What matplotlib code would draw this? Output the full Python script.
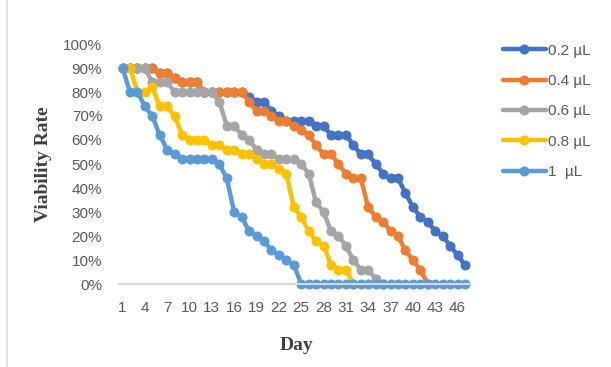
import numpy as np
import matplotlib
matplotlib.use("Agg")
import matplotlib.pyplot as plt
from matplotlib.lines import Line2D
from matplotlib.ticker import PercentFormatter

days = list(range(1, 48))
xtick_labels = list(range(1, 48, 3))

nan = np.nan
v_02 = [90, 90, 90, 90, 90, 88, 88, 86, 84, 84, 84, 80, 80, 80, 80, 80, 80, 78, 76, 76,
        72, 70, 68, 68, 68, 68, 66, 66, 62, 62, 62, 58, 54, 54, 50, 46, 44, 44, 38, 32,
        28, 26, 22, 20, 16, 12, 8]
v_04 = [90, 90, 90, 90, 90, 88, 88, 86, 84, 84, 84, 80, 80, 80, 80, 80, 80, 76, 72, 72,
        70, 68, 68, 66, 64, 62, 58, 54, 54, 50, 46, 44, 44, 32, 28, 26, 22, 20, 14, 10,
        6, 0] + [nan] * 5
v_06 = [90, 90, 90, 90, 84, 84, 84, 80, 80, 80, 80, 80, 80, 76, 66, 66, 62, 60, 56, 54,
        54, 52, 52, 52, 50, 46, 34, 30, 22, 20, 16, 10, 6, 6, 2, 0] + [nan] * 11
v_08 = [90, 90, 80, 80, 82, 74, 74, 70, 62, 60, 60, 60, 58, 58, 56, 56, 54, 54, 52, 50,
        50, 48, 46, 32, 28, 22, 18, 16, 8, 6, 6, 0] + [nan] * 15
v_1 = [90, 80, 80, 74, 70, 62, 56, 54, 52, 52, 52, 52, 52, 50, 44, 30, 28, 22, 20, 18,
       14, 12, 10, 8] + [0] * 23

labels = ["0.2 µL", "0.4 µL", "0.6 µL", "0.8 µL", "1  µL"]
series = [v_02, v_04, v_06, v_08, v_1]
colors = ["#4472C4", "#ED7D31", "#A5A5A5", "#FFC000", "#5B9BD5"]

W, H = 611, 367
fig = plt.figure(figsize=(W / 100, H / 100), dpi=100)
fig.patch.set_facecolor("white")
x0, x1 = 118.8, 468.7
y0, y1 = 284, 44
ax = fig.add_axes([x0 / W, (H - y0) / H, (x1 - x0) / W, (y0 - y1) / H])

for vals, lab, col in zip(series, labels, colors):
    ax.plot(days, np.array(vals, dtype=float) / 100, color=col, lw=3.2,
            marker="o", markersize=7.2, markeredgewidth=0, label=lab,
            solid_capstyle="round", clip_on=False)

ax.set_xlim(0.5, 47.5)
ax.set_ylim(0, 1)
ax.set_xticks(xtick_labels)
ax.set_xticklabels([str(t) for t in xtick_labels])
ax.set_yticks(np.arange(0, 1.01, 0.1))
ax.yaxis.set_major_formatter(PercentFormatter(1.0, decimals=0))
for s in ["top", "right", "left"]:
    ax.spines[s].set_visible(False)
ax.spines["bottom"].set_color("#D9D9D9")
ax.spines["bottom"].set_linewidth(1.5)
ax.tick_params(axis="both", length=0, labelsize=11, labelcolor="#595959")
ax.tick_params(axis="x", pad=12)
ax.tick_params(axis="y", pad=12)
for t in ax.get_xticklabels() + ax.get_yticklabels():
    t.set_fontfamily("Liberation Sans")

fig.text(44 / W, (H - 164) / H, "Viability Rate", rotation=90, ha="center", va="center",
         fontsize=14, fontweight="bold", family="Liberation Serif", color="#404040")
fig.text(296 / W, (H - 346) / H, "Day", ha="center", va="center",
         fontsize=14, fontweight="bold", family="Liberation Serif", color="#404040")

leg = ax.legend(loc="upper left", bbox_to_anchor=(503 / W, (H - 43.5) / H),
                bbox_transform=fig.transFigure, frameon=False, borderpad=0,
                borderaxespad=0, handlelength=2.8, handletextpad=0.15,
                labelspacing=1.07, prop={"family": "Liberation Sans", "size": 11})
for t in leg.get_texts():
    t.set_color("#595959")

fig.add_artist(Line2D([7.5 / W, 7.5 / W], [0, 1], transform=fig.transFigure,
                      color="#D9D9D9", lw=1.2))

fig.savefig("out.png", dpi=100)
